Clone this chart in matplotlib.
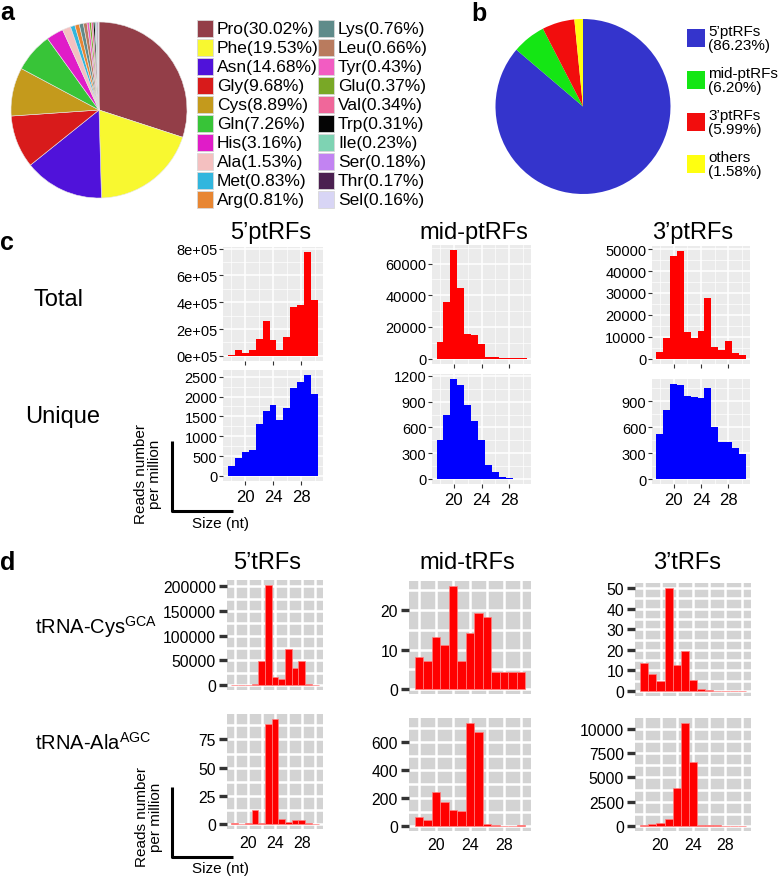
import matplotlib
matplotlib.use('Agg')
import matplotlib.pyplot as plt
from matplotlib.patches import Rectangle
from matplotlib.lines import Line2D
import numpy as np

plt.rcParams['font.family'] = ['Liberation Sans', 'DejaVu Sans']
plt.rcParams['mathtext.fontset'] = 'custom'
plt.rcParams['mathtext.rm'] = 'Liberation Sans'

# ---- data: panel a (amino acid composition) ----
aa_names = ['Pro', 'Phe', 'Asn', 'Gly', 'Cys', 'Gln', 'His', 'Ala', 'Met', 'Arg',
            'Lys', 'Leu', 'Tyr', 'Glu', 'Val', 'Trp', 'Ile', 'Ser', 'Thr', 'Sel']
aa_pct = [30.02, 19.53, 14.68, 9.68, 8.89, 7.26, 3.16, 1.53, 0.83, 0.81,
          0.76, 0.66, 0.43, 0.37, 0.34, 0.31, 0.23, 0.18, 0.17, 0.16]
aa_colors = ['#933E48', '#F8F830', '#5012DA', '#D81B1B', '#C49A1C', '#38C438',
             '#E01CC8', '#F4C0C0', '#31B6DE', '#E88632', '#5F8B8A', '#B97B5E',
             '#F25CC2', '#79A826', '#F0679A', '#050505', '#7ED3B3', '#C283F2',
             '#4B2050', '#D8D5F5']

# ---- data: panel b (fragment classes) ----
frag_names = ['5’ptRFs', 'mid-ptRFs', '3’ptRFs', 'others']
frag_pct = [86.23, 6.20, 5.99, 1.58]
frag_colors = ['#3434CC', '#14E614', '#F20D0D', '#FFFF10']

# ---- data: panel c (size distributions, reads per million) ----
sizes = np.arange(18, 31)
c_titles = ['5’ptRFs', 'mid-ptRFs', '3’ptRFs']
c5_total = [5000, 41000, 19000, 43000, 128000, 260000, 120000, 43000, 140000,
            366000, 376000, 773000, 414000]
c5_unique = [248, 454, 594, 660, 1304, 1625, 1790, 1403, 1708, 2211, 2368, 2541, 2063]
cmid_total = [10500, 35800, 68300, 44800, 15400, 14700, 9050, 800, 800, 600, 600, 100, 600]
cmid_unique = [450, 739, 1163, 1095, 863, 675, 458, 161, 79, 19, 15, 5, 5]
c3_total = [3000, 9400, 46700, 49000, 12100, 9400, 12600, 27600, 5450, 3800, 8000, 2600, 1500]
c3_unique = [516, 795, 1100, 1089, 955, 947, 936, 1050, 604, 432, 432, 363, 294]

c5_total_ticks = [0, 200000, 400000, 600000, 800000]
c5_total_labels = ['0e+05', '2e+05', '4e+05', '6e+05', '8e+05']
c5_unique_ticks = [0, 500, 1000, 1500, 2000, 2500]
cmid_total_ticks = [0, 20000, 40000, 60000]
cmid_unique_ticks = [0, 300, 600, 900, 1200]
c3_total_ticks = [0, 10000, 20000, 30000, 40000, 50000]
c3_unique_ticks = [0, 300, 600, 900]

# ---- data: panel d (tRNA-derived fragments) ----
d_titles = ['5’tRFs', 'mid-tRFs', '3’tRFs']
d5_cys = [0, 0, 1000, 2000, 48000, 203000, 17000, 13000, 73000, 35000, 48000, 3000, 1000]
d5_ala = [1, 0, 0.8, 12, 1, 89, 93, 4, 2, 3, 3, 0.5, 0]
dmid_cys = [8.1, 7.1, 13.1, 11.2, 26.1, 7.1, 14.1, 19.2, 18.2, 4.2, 4.2, 4.2, 4.2]
dmid_ala = [64, 40, 243, 171, 117, 105, 735, 671, 12, 5, 1, 1, 5]
d3_cys = [13.5, 8.4, 4.7, 50, 12.4, 19.4, 5.5, 0.7, 0.5, 0, 0, 0, 0]
d3_ala = [100, 170, 270, 680, 3930, 10600, 6570, 100, 60, 60, 0, 0, 0]

d5_cys_ticks = [0, 50000, 100000, 150000, 200000]
d5_ala_ticks = [0, 25, 50, 75]
dmid_cys_ticks = [0, 10, 20]
dmid_ala_ticks = [0, 200, 400, 600]
d3_cys_ticks = [0, 10, 20, 30, 40, 50]
d3_ala_ticks = [0, 2500, 5000, 7500, 10000]

x_major = [20, 24, 28]
x_minor = [18, 22, 26, 30]

W, H = 778, 878
fig = plt.figure(figsize=(W / 100, H / 100), dpi=100)


def px_axes(l, t, r, b):
    return fig.add_axes([l / W, 1 - b / H, (r - l) / W, (b - t) / H])


def ftext(x, y, s, **kw):
    kw.setdefault('va', 'center')
    return fig.text(x / W, 1 - y / H, s, **kw)


def fline(xs, ys, lw=2.2):
    fig.add_artist(Line2D([x / W for x in xs], [1 - y / H for y in ys],
                          color='black', lw=lw, solid_capstyle='butt'))


def hist_panel(ax, counts, color, yticks, ylabels=None, show_x=True, dark=False):
    top = max(counts)
    if dark:
        ax.bar(sizes, counts, width=1, color=color, edgecolor='#FF8080', linewidth=0.5, zorder=3)
    else:
        ax.bar(sizes, counts, width=1, color=color, linewidth=0, zorder=3)
    ax.set_xlim(16.85, 31.15)
    ax.set_ylim(-0.05 * top, 1.05 * top)
    ax.set_xticks(x_major)
    ax.set_xticks(x_minor, minor=True)
    step = yticks[1] - yticks[0]
    ax.set_yticks(yticks)
    ax.set_yticks(np.arange(yticks[0] + step / 2, 1.05 * top, step), minor=True)
    if ylabels is not None:
        ax.set_yticklabels(ylabels)
    for sp in ax.spines.values():
        sp.set_visible(False)
    ax.set_axisbelow(True)
    ax.tick_params(which='minor', length=0)
    if dark:
        ax.set_facecolor('#D3D3D3')
        ax.grid(which='both', color='white', lw=1.8)
        ax.tick_params(axis='y', which='major', length=6, width=2.4, color='#333333',
                       labelsize=11.3, pad=2)
        ax.tick_params(axis='x', which='major', length=0, labelsize=11.5, pad=4)
    else:
        ax.set_facecolor('#EBEBEB')
        ax.grid(which='major', color='white', lw=1.1)
        ax.grid(which='minor', color='white', lw=0.5)
        ax.tick_params(axis='y', which='major', length=3, width=0.8, color='#333333',
                       labelsize=10.5, pad=1)
        ax.tick_params(axis='x', which='major', length=3, width=0.8, color='#333333',
                       labelsize=12, pad=3)
    if not show_x:
        ax.set_xticklabels([])


# ---- panel a ----
ax_a = px_axes(11, 23, 187, 199)
ax_a.pie(aa_pct, colors=aa_colors, startangle=90, counterclock=False,
         wedgeprops=dict(edgecolor='#E6E6E6', linewidth=0.4))
ax_a.set_xlim(-1.0, 1.0)
ax_a.set_ylim(-1.0, 1.0)

for i, (name, pct, col) in enumerate(zip(aa_names, aa_pct, aa_colors)):
    x0 = 197 if i < 10 else 318
    yc = 29.5 + (i % 10) * 18.95
    fig.add_artist(Rectangle((x0 / W, 1 - (yc + 8.5) / H), 16 / W, 17 / H,
                             transform=fig.transFigure, facecolor=col,
                             edgecolor='#D8D8D8', lw=0.6))
    ftext(x0 + 20, yc, f'{name}({pct:.2f}%)', fontsize=12.5)

# ---- panel b ----
ax_b = px_axes(495.5, 20, 670.5, 195)
ax_b.pie(frag_pct, colors=frag_colors, startangle=90, counterclock=False,
         wedgeprops=dict(edgecolor='none'))
ax_b.set_xlim(-1.0, 1.0)
ax_b.set_ylim(-1.0, 1.0)

for i, (name, pct, col) in enumerate(zip(frag_names, frag_pct, frag_colors)):
    yc = 39 + i * 42
    fig.add_artist(Rectangle((687 / W, 1 - (yc + 9) / H), 18 / W, 18 / H,
                             transform=fig.transFigure, facecolor=col, edgecolor='none'))
    ftext(708, yc, f'{name}\n({pct:.2f}%)', fontsize=11, linespacing=0.95)

# ---- panel c ----
c_boxes_total = [(223, 248, 323, 362), (432, 246, 531, 365), (652, 247, 750, 365)]
c_boxes_unique = [(223, 371, 323, 482), (432, 375, 531, 485), (652, 380, 750, 485)]
c_total = [c5_total, cmid_total, c3_total]
c_unique = [c5_unique, cmid_unique, c3_unique]
c_total_ticks = [c5_total_ticks, cmid_total_ticks, c3_total_ticks]
c_total_labels = [c5_total_labels, None, None]
c_unique_ticks = [c5_unique_ticks, cmid_unique_ticks, c3_unique_ticks]

for k in range(3):
    ax = px_axes(*c_boxes_total[k])
    hist_panel(ax, c_total[k], '#FF0000', c_total_ticks[k], c_total_labels[k], show_x=False)
    ax = px_axes(*c_boxes_unique[k])
    hist_panel(ax, c_unique[k], '#0000FF', c_unique_ticks[k])

c_title_x = [271, 474, 693]
for k in range(3):
    ftext(c_title_x[k], 233, c_titles[k], fontsize=17, ha='center')
ftext(59, 300, 'Total', fontsize=17, ha='center')
ftext(63, 417, 'Unique', fontsize=17, ha='center')

fline([172, 172, 233], [442, 511.5, 511.5])
ftext(148, 474, 'Reads number\nper million', fontsize=11, rotation=90,
      ha='center', linespacing=0.95)
ftext(220, 524, 'Size (nt)', fontsize=11, ha='center')

# ---- panel d ----
d_boxes_cys = [(227, 581, 323, 691), (409, 582, 531, 695), (635, 584, 751, 697)]
d_boxes_ala = [(227, 715, 323, 830), (409, 719, 531, 832), (635, 719, 751, 832)]
d_cys = [d5_cys, dmid_cys, d3_cys]
d_ala = [d5_ala, dmid_ala, d3_ala]
d_cys_ticks = [d5_cys_ticks, dmid_cys_ticks, d3_cys_ticks]
d_ala_ticks = [d5_ala_ticks, dmid_ala_ticks, d3_ala_ticks]

for k in range(3):
    ax = px_axes(*d_boxes_cys[k])
    hist_panel(ax, d_cys[k], '#FF0000', d_cys_ticks[k], show_x=False, dark=True)
    ax = px_axes(*d_boxes_ala[k])
    hist_panel(ax, d_ala[k], '#FF0000', d_ala_ticks[k], dark=True)

d_title_x = [267, 467, 687]
for k in range(3):
    ftext(d_title_x[k], 563, d_titles[k], fontsize=17, ha='center')
ftext(35, 627, 'tRNA-Cys$^{\\mathrm{GCA}}$', fontsize=14.5, ha='left')
ftext(35, 743, 'tRNA-Ala$^{\\mathrm{AGC}}$', fontsize=14.5, ha='left')

fline([172, 172, 233], [788, 858, 858])
ftext(149, 817, 'Reads number\nper million', fontsize=11, rotation=90,
      ha='center', linespacing=0.95)
ftext(220, 869, 'Size (nt)', fontsize=11, ha='center')

# ---- panel letters ----
for letter, x, y in [('a', 0, 13), ('b', 471, 14), ('c', 0, 243), ('d', 0, 563)]:
    ftext(x, y, letter, fontsize=18, fontweight='bold', ha='left')

fig.savefig('out.png', dpi=100, facecolor='white')
